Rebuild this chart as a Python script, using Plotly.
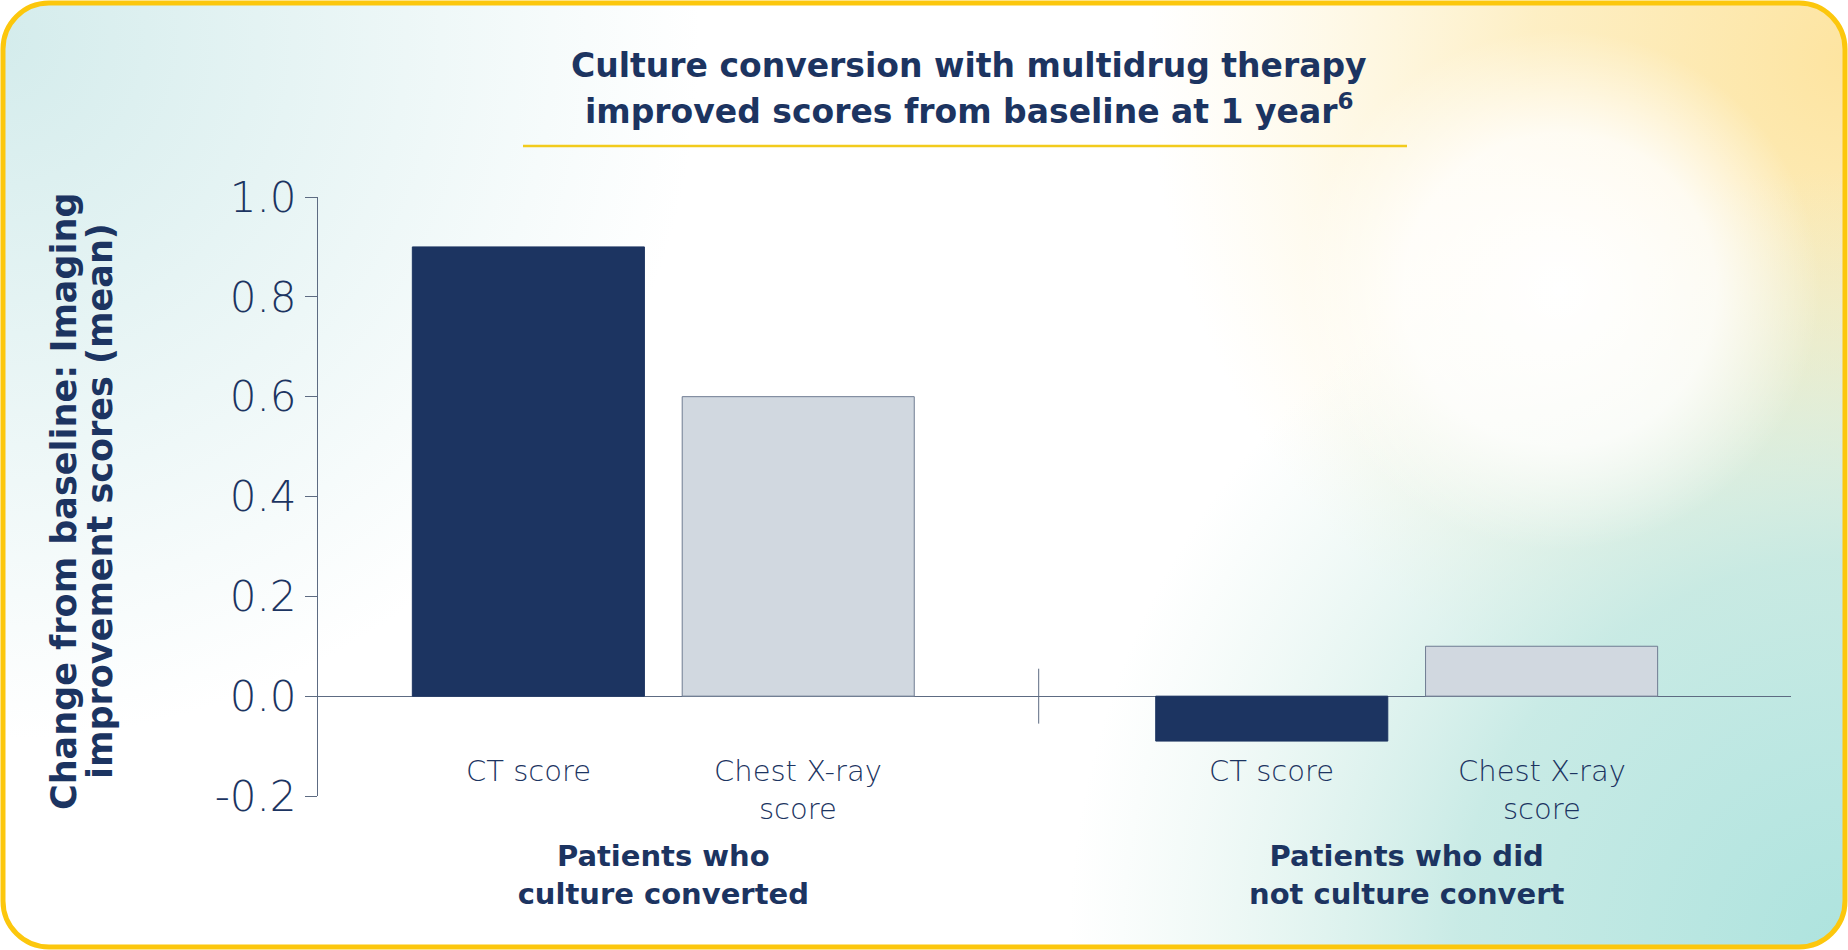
import base64
import plotly.graph_objects as go

# data
groups = ["Patients who<br>culture converted", "Patients who did<br>not culture convert"]
score_types = ["CT score", "Chest X-ray<br>score"]
ct_scores = [0.9, -0.09]
xray_scores = [0.6, 0.1]
y_ticks = [-0.2, 0.0, 0.2, 0.4, 0.6, 0.8, 1.0]
title_lines = ["Culture conversion with multidrug therapy",
               "improved scores from baseline at 1 year<sup>6</sup>"]
ytitle_lines = ["Change from baseline: Imaging", "improvement scores (mean)"]

NAVY = "#1c3461"
GREY = "#d1d8e0"
AXIS = "#5d6b82"
BOLD = "DejaVu Sans"
LIGHT = "DejaVu Sans"
W, H = 1848, 950
L, R, T, B = 318, 57, 197, 154
BARGAP = 0.274
pw, ph = W - L - R, H - T - B


def px(xp):
    return (xp - L) / pw


def py(yp):
    return (H - yp - B) / ph


# background card: soft gradients inside a rounded yellow frame
svg = f"""<svg xmlns='http://www.w3.org/2000/svg' width='{W}' height='{H}' viewBox='0 0 {W} {H}'>
<defs>
<clipPath id='c'><rect x='3' y='3' width='{W-6}' height='{H-6}' rx='46' ry='46'/></clipPath>
<radialGradient id='tl' gradientUnits='userSpaceOnUse' cx='0' cy='40' r='700'>
<stop offset='0' stop-color='#d4ecec'/><stop offset='1' stop-color='#d4ecec' stop-opacity='0'/></radialGradient>
<radialGradient id='tr' gradientUnits='userSpaceOnUse' cx='{W}' cy='60' r='700'>
<stop offset='0' stop-color='#fde4a0'/><stop offset='0.45' stop-color='#fdecba' stop-opacity='0.85'/>
<stop offset='1' stop-color='#fdf3d0' stop-opacity='0'/></radialGradient>
<radialGradient id='br' gradientUnits='userSpaceOnUse' cx='{W}' cy='{H}' r='780'>
<stop offset='0' stop-color='#ade3de'/><stop offset='0.5' stop-color='#bfe7e1' stop-opacity='0.85'/>
<stop offset='1' stop-color='#d8efe6' stop-opacity='0'/></radialGradient>
<radialGradient id='wh' gradientUnits='userSpaceOnUse' cx='1560' cy='290' r='260'>
<stop offset='0' stop-color='#ffffff'/><stop offset='0.6' stop-color='#ffffff' stop-opacity='0.8'/>
<stop offset='1' stop-color='#ffffff' stop-opacity='0'/></radialGradient>
</defs>
<rect width='{W}' height='{H}' fill='#ffffff'/>
<g clip-path='url(#c)'>
<rect width='{W}' height='{H}' fill='#ffffff'/>
<rect width='{W}' height='{H}' fill='url(#tl)'/>
<rect width='{W}' height='{H}' fill='url(#tr)'/>
<rect width='{W}' height='{H}' fill='url(#br)'/>
<rect width='{W}' height='{H}' fill='url(#wh)'/>
</g>
<rect x='3' y='3' width='{W-6}' height='{H-6}' rx='46' ry='46' fill='none' stroke='#fcc70d' stroke-width='5'/>
</svg>"""
bg = "data:image/svg+xml;base64," + base64.b64encode(svg.encode()).decode()

fig = go.Figure()
fig.add_trace(go.Bar(
    x=groups, y=ct_scores, name="CT score",
    marker=dict(color=NAVY, line=dict(color=NAVY, width=1)),
))
fig.add_trace(go.Bar(
    x=groups, y=xray_scores, name="Chest X-ray score",
    marker=dict(color=GREY, line=dict(color="#6f7c92", width=1)),
))

# bar labels under each bar
off = (1 - BARGAP) / 4
for gi in range(len(groups)):
    for si, lab in enumerate(score_types):
        fig.add_annotation(
            x=gi + (-off if si == 0 else off), y=-0.112, xref="x", yref="y",
            text=lab, showarrow=False, xanchor="center", yanchor="top",
            font=dict(family=LIGHT, size=29, color=NAVY, weight=200),
        )

# group divider on the zero line
fig.add_shape(type="line", x0=0.505, x1=0.505, y0=-0.055, y1=0.055,
              xref="x", yref="y", line=dict(color=AXIS, width=1))

# title lines and yellow underline
for i, line in enumerate(title_lines):
    fig.add_annotation(
        x=px(969), y=py(65 + 45 * i), xref="paper", yref="paper",
        text=f"<b>{line}</b>", showarrow=False, xanchor="center", yanchor="middle",
        font=dict(family=BOLD, size=33, color=NAVY),
    )
fig.add_shape(type="line", x0=px(523), x1=px(1407), y0=py(146), y1=py(146),
              xref="paper", yref="paper", line=dict(color="#f2cb1c", width=2.5))

# y axis title, one annotation per line
for i, line in enumerate(ytitle_lines):
    fig.add_annotation(
        x=px(64 + 36 * i), y=py(501), xref="paper", yref="paper",
        text=f"<b>{line}</b>", showarrow=False, textangle=-90,
        xanchor="center", yanchor="middle",
        font=dict(family=BOLD, size=35, color=NAVY),
    )

fig.update_layout(
    width=W, height=H,
    margin=dict(l=L, r=R, t=T, b=B, autoexpand=False),
    paper_bgcolor="white", plot_bgcolor="rgba(0,0,0,0)",
    barmode="group", bargap=BARGAP, bargroupgap=0.14,
    showlegend=False,
    font=dict(family=BOLD, color=NAVY),
    images=[dict(source=bg, xref="paper", yref="paper",
                 x=-L / pw, y=1 + T / ph, sizex=W / pw, sizey=H / ph,
                 xanchor="left", yanchor="top", sizing="stretch", layer="below")],
)
fig.update_xaxes(
    range=[-0.4645, 1.517], showgrid=False, showline=False, zeroline=False,
    ticks="", ticklabelstandoff=40, automargin=False,
    tickfont=dict(family=BOLD, size=29, color=NAVY),
    tickprefix="<b>", ticksuffix="</b>",
)
fig.update_yaxes(
    range=[-0.2, 1.0], tickvals=y_ticks, ticktext=[f"{v:.1f}" for v in y_ticks],
    showgrid=False, showline=True, linecolor=AXIS, linewidth=1,
    ticks="outside", ticklen=12, tickcolor=AXIS, automargin=False,
    zeroline=True, zerolinecolor=AXIS, zerolinewidth=1,
    tickfont=dict(family=LIGHT, size=42, color=NAVY, weight=200),
)

fig.write_html("out.html", config={"displayModeBar": False},
               post_script="document.body.style.margin='0';")
